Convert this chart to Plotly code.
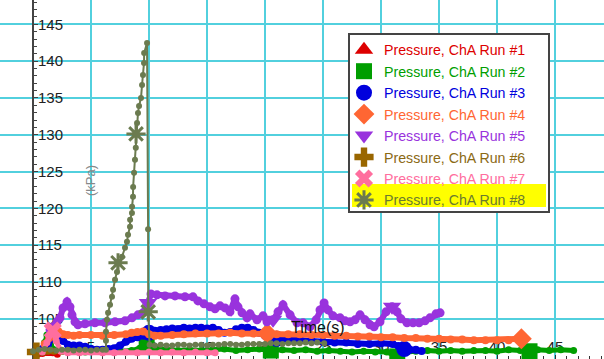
import plotly.graph_objects as go

W, H = 604, 359

RUN_NAMES = [f"Pressure, ChA Run #{i}" for i in range(1, 9)]
RUN_COLORS = ["#DD0000", "#009E00", "#0000DD", "#FF6633",
              "#9933DD", "#996600", "#FF6E9E", "#6B7B4F"]
TEXT_COLORS = ["#DD0000", "#009E00", "#0000DD", "#FF6633",
               "#9933DD", "#8B6914", "#FF6E9E", "#6B7B2F"]
RUN_SYMBOLS = ["triangle-up", "square", "circle", "diamond",
               "triangle-down", "cross", "x", "asterisk"]

# (time s, pressure kPa)
RUN1 = [(0.4, 100.2), (0.8, 100.3), (1.3, 100.5), (1.7, 100.4), (2.1, 100.2)]
RUN2 = [(0.8, 100.5), (1.0, 101.8), (1.2, 102.8), (1.5, 101.6), (1.8, 100.8),
        (2.5, 100.6), (3.5, 100.6), (4.5, 100.5), (5.5, 100.6), (6.5, 100.6),
        (7.5, 100.6), (8.5, 100.7), (9.2, 101.0), (9.8, 101.3), (10.5, 101.0),
        (11.5, 100.8), (12.5, 100.7), (13.5, 100.8), (14.5, 100.7), (15.5, 100.8),
        (16.5, 100.9), (17.5, 100.7), (18.5, 100.8), (19.5, 100.9), (20.5, 100.7),
        (21.5, 100.8), (22.5, 100.7), (23.5, 100.8), (24.5, 100.6), (25.5, 100.7),
        (26.5, 100.6), (27.5, 100.5), (28.5, 100.6), (29.5, 100.5), (30.5, 100.5),
        (31.4, 99.9), (32.2, 100.5), (33.0, 100.6), (34.0, 100.7), (35.0, 100.6),
        (36.0, 100.7), (37.0, 100.6), (38.0, 100.7), (39.0, 100.7), (40.0, 100.6),
        (41.0, 100.8), (42.0, 100.7), (42.8, 100.6), (43.5, 100.8), (44.5, 100.7),
        (45.5, 100.8), (46.6, 100.7)]
RUN3 = [(0.3, 100.6), (0.8, 100.9), (1.3, 101.6), (1.8, 102.7), (2.2, 103.0),
        (2.6, 102.0), (3.0, 101.5), (3.5, 101.4), (4.0, 101.4), (4.5, 101.2),
        (5.0, 100.9), (5.5, 100.8), (6.0, 100.8), (6.5, 100.9), (7.0, 101.0),
        (7.5, 101.4), (8.0, 101.9), (8.5, 102.3), (9.0, 102.5), (9.5, 102.7),
        (10.0, 103.1), (10.5, 103.4), (11.0, 103.5), (11.5, 103.6), (12.0, 103.7),
        (12.5, 103.6), (13.0, 103.8), (13.5, 103.7), (14.0, 103.8), (14.5, 103.8),
        (15.0, 103.7), (15.5, 103.8), (16.0, 103.5), (16.5, 103.1), (17.0, 103.2),
        (17.5, 103.6), (18.0, 103.8), (18.5, 103.8), (19.0, 103.5), (19.5, 103.1),
        (20.0, 102.7), (20.5, 102.4), (21.0, 102.3), (22.0, 102.2), (23.0, 102.2),
        (24.0, 102.0), (25.0, 101.9), (26.0, 101.8), (27.0, 101.8), (28.0, 101.6),
        (29.0, 101.6), (30.0, 101.7), (31.0, 101.6), (31.5, 101.3), (32.0, 100.9),
        (32.5, 100.8), (33.0, 100.8), (33.5, 100.65)]
RUN4 = [(1.0, 101.6), (1.4, 102.4), (1.8, 103.0), (2.2, 103.3), (2.6, 102.9),
        (3.0, 102.8), (3.5, 102.7), (4.0, 102.8), (5.0, 102.8), (6.0, 102.7),
        (7.0, 102.8), (8.0, 102.9), (8.5, 103.1), (9.0, 103.2), (9.5, 103.3),
        (10.0, 102.9), (10.5, 102.7), (11.0, 102.7), (12.0, 102.8), (13.0, 102.9),
        (14.0, 103.0), (15.0, 103.0), (16.0, 103.0), (17.0, 103.1), (18.0, 103.0),
        (19.0, 103.0), (20.2, 103.0), (21.0, 102.9), (22.0, 102.9), (23.0, 102.9),
        (24.0, 102.8), (25.0, 102.8), (26.0, 102.7), (27.0, 102.7), (28.0, 102.6),
        (29.0, 102.6), (30.0, 102.5), (31.0, 102.5), (32.0, 102.4), (33.0, 102.4),
        (34.0, 102.3), (35.0, 102.3), (36.0, 102.2), (37.0, 102.2), (38.0, 102.1),
        (39.0, 102.1), (40.0, 102.1), (41.0, 102.1), (42.1, 102.3)]
RUN5 = [(1.47, 103.51), (1.72, 103.92), (2.07, 104.60), (2.33, 105.14), (2.59, 106.49),
        (2.93, 107.31), (3.19, 106.63), (3.36, 105.55), (3.62, 104.60), (3.88, 104.19),
        (4.48, 104.32), (5.34, 104.46), (6.21, 104.46), (7.07, 104.60), (7.93, 104.73),
        (8.53, 105.14), (9.05, 105.55), (9.48, 105.82), (9.91, 107.17), (10.17, 108.39),
        (10.69, 108.26), (11.38, 108.12), (12.24, 108.12), (13.10, 107.99), (13.79, 107.99),
        (14.22, 107.44), (14.74, 107.04), (15.26, 106.63), (15.69, 106.36), (16.12, 106.77),
        (16.55, 106.49), (16.98, 105.95), (17.41, 107.72), (17.67, 106.63), (18.02, 105.82),
        (18.45, 105.14), (18.71, 105.68), (19.31, 104.87), (19.83, 105.41), (20.17, 104.60),
        (20.69, 104.87), (21.12, 105.95), (21.55, 106.90), (22.16, 105.55), (22.76, 104.46),
        (23.28, 104.46), (23.88, 103.92), (24.40, 104.87), (24.74, 106.22), (25.09, 107.17),
        (25.43, 106.22), (25.86, 105.41), (26.47, 105.14), (26.90, 104.73), (27.33, 104.60),
        (27.76, 104.87), (28.19, 105.55), (28.62, 104.87), (29.05, 104.19), (29.40, 103.92),
        (29.91, 104.60), (30.43, 105.95), (30.95, 106.63), (31.38, 105.95), (31.72, 105.00),
        (32.24, 104.46), (32.76, 104.46), (33.28, 104.46), (33.79, 104.73), (34.22, 105.14),
        (34.74, 105.68), (35.09, 105.82)]
RUN6 = [(0.3, 100.5), (0.8, 100.6), (1.3, 100.6), (1.8, 100.6), (2.5, 100.6),
        (3.2, 100.6), (4.0, 100.6)]
RUN7 = [(0.8, 100.5), (1.2, 101.8), (1.7, 103.4), (2.0, 102.0), (2.4, 100.6),
        (3.0, 100.4), (4.0, 100.4), (5.0, 100.5), (6.0, 100.4), (7.0, 100.4),
        (8.0, 100.5), (9.0, 100.4), (10.0, 100.5), (11.0, 100.4), (12.0, 100.5),
        (13.0, 100.4), (14.0, 100.5), (15.0, 100.4), (15.7, 100.4)]
RUN8 = [(0.0, 100.6), (0.5, 100.8), (1.0, 100.9), (1.5, 100.8), (2.0, 100.7),
        (2.5, 100.8), (3.0, 100.8), (3.5, 100.7), (4.0, 100.8), (4.5, 100.8),
        (5.0, 100.7), (5.5, 100.8), (6.0, 100.8), (6.29, 100.79), (6.29, 102.02),
        (6.29, 103.24), (6.38, 104.87), (6.47, 105.82), (6.64, 106.90), (6.81, 107.99),
        (6.90, 108.94), (7.07, 110.30), (7.24, 111.38), (7.33, 112.61), (7.67, 113.42),
        (7.93, 114.65), (8.10, 115.46), (8.19, 116.41), (8.36, 117.50), (8.37, 118.45),
        (8.53, 119.39), (8.54, 120.21), (8.62, 121.57), (8.63, 122.92), (8.71, 124.83),
        (8.79, 126.59), (8.86, 128.22), (8.88, 130.12), (8.97, 131.61), (9.05, 132.97),
        (9.14, 133.92), (9.31, 135.00), (9.40, 136.76), (9.48, 138.12), (9.57, 139.75),
        (9.58, 141.10), (9.83, 142.46), (9.92, 117.17), (9.93, 105.95), (10.05, 101.5),
        (10.5, 101.4), (11.0, 101.5), (11.5, 101.4), (12.0, 101.4), (12.5, 101.5),
        (13.0, 101.5), (13.5, 101.4), (14.0, 101.5), (14.5, 101.5), (15.0, 101.4),
        (15.5, 101.5), (16.0, 101.5), (16.5, 101.6), (17.0, 101.6), (17.5, 101.5),
        (18.0, 101.5), (18.5, 101.6), (19.0, 101.6), (19.5, 101.6), (20.0, 101.6),
        (20.5, 101.7), (21.0, 101.7), (21.5, 101.6), (22.0, 101.7), (22.5, 101.7),
        (23.0, 101.7), (23.5, 101.8), (24.0, 101.7), (24.5, 101.8), (25.1, 101.7)]

RUNS = [RUN1, RUN2, RUN3, RUN4, RUN5, RUN6, RUN7, RUN8]

# times of the points that carry the large run symbol
MARK_TIMES = [[1.3], [9.8, 20.5, 31.4, 42.8], [10.0, 21.0, 32.0], [20.2, 42.1],
              [9.91, 20.69, 30.95], [0.3], [1.7], [7.33, 8.88, 9.93]]

X_TICKS = [5, 10, 15, 20, 25, 30, 35, 40, 45]
Y_TICKS = [100, 105, 110, 115, 120, 125, 130, 135, 140, 145]
Y_TICKTEXT = [""] + [str(v) for v in Y_TICKS[1:]]

X_RANGE = [-2.845, 49.22]
Y_RANGE = [99.55, 148.3]

LINE_W = [5, 5, 6, 6, 6, 5, 5, 2]
DOT_S = [7, 7, 8, 8, 9, 7, 7, 6]

GRID = "#52D0DE"

fig = go.Figure()
for i, run in enumerate(RUNS):
    t = [p[0] for p in run]
    v = [p[1] for p in run]
    fig.add_trace(go.Scatter(
        x=t, y=v, mode="lines+markers", showlegend=False, hoverinfo="skip",
        line=dict(color=RUN_COLORS[i], width=LINE_W[i]),
        marker=dict(symbol="circle", size=DOT_S[i], color=RUN_COLORS[i])))
    mt = [p[0] for p in run if p[0] in MARK_TIMES[i]]
    mv = [p[1] for p in run if p[0] in MARK_TIMES[i]]
    mk = dict(symbol=RUN_SYMBOLS[i], size=16, color=RUN_COLORS[i])
    if RUN_SYMBOLS[i] == "asterisk":
        mk["line"] = dict(color=RUN_COLORS[i], width=3)
    fig.add_trace(go.Scatter(
        x=mt, y=mv, mode="markers", marker=mk,
        name=f"<span style='color:{TEXT_COLORS[i]}'>{RUN_NAMES[i]}</span>"))

def px_x(p):
    return p / W

def px_y(p):
    return 1 - p / H

fig.update_layout(
    width=W, height=H, margin=dict(l=0, r=0, t=0, b=0),
    paper_bgcolor="white", plot_bgcolor="white",
    font=dict(family="Arial", color="#222"),
    showlegend=True,
    legend=dict(x=px_x(344), y=px_y(34), xanchor="left", yanchor="top",
                bgcolor="rgba(0,0,0,0)", borderwidth=0,
                font=dict(family="Arial", size=14.2),
                itemsizing="trace", tracegroupgap=0),
    xaxis=dict(range=X_RANGE, tickmode="array", tickvals=X_TICKS,
               showgrid=True, gridcolor=GRID, gridwidth=1.5,
               zeroline=False, showline=False,
               ticks="inside", ticklen=4, tickcolor="#333",
               ticklabelposition="inside", tickfont=dict(size=15, color="#222"),
               minor=dict(tickmode="linear", tick0=0, dtick=1, ticks="inside",
                          ticklen=3, tickcolor="#333", showgrid=False),
               layer="below traces"),
    yaxis=dict(range=Y_RANGE, anchor="free",
               position=(0 - X_RANGE[0]) / (X_RANGE[1] - X_RANGE[0]),
               side="left", tickmode="array", tickvals=Y_TICKS, ticktext=Y_TICKTEXT,
               showgrid=True, gridcolor=GRID, gridwidth=1.5,
               zeroline=False, showline=True, linecolor="#444", linewidth=2,
               ticks="inside", ticklen=4, tickcolor="#444",
               ticklabelposition="inside", tickfont=dict(size=15, color="#222"),
               minor=dict(tickmode="linear", tick0=0, dtick=1, ticks="inside",
                          ticklen=3, tickcolor="#444", showgrid=False),
               layer="below traces"),
    shapes=[
        dict(type="rect", xref="paper", yref="paper", layer="above",
             x0=px_x(349), x1=px_x(549), y0=px_y(212), y1=px_y(34),
             fillcolor="white", line=dict(color="#444", width=2)),
        dict(type="rect", xref="paper", yref="paper", layer="above",
             x0=px_x(352), x1=px_x(546), y0=px_y(207), y1=px_y(184),
             fillcolor="#FFFF00", line=dict(width=0)),
    ],
    annotations=[
        dict(text="(kPa)", xref="paper", yref="paper", x=px_x(90), y=px_y(181),
             xanchor="center", yanchor="middle",
             showarrow=False, textangle=-90, font=dict(size=13, color="#888")),
        dict(text="Time(s)", xref="paper", yref="paper", x=px_x(318), y=px_y(327),
             xanchor="center", yanchor="middle",
             showarrow=False, font=dict(size=16, color="#111")),
    ],
)

fig.write_html("out.html")
